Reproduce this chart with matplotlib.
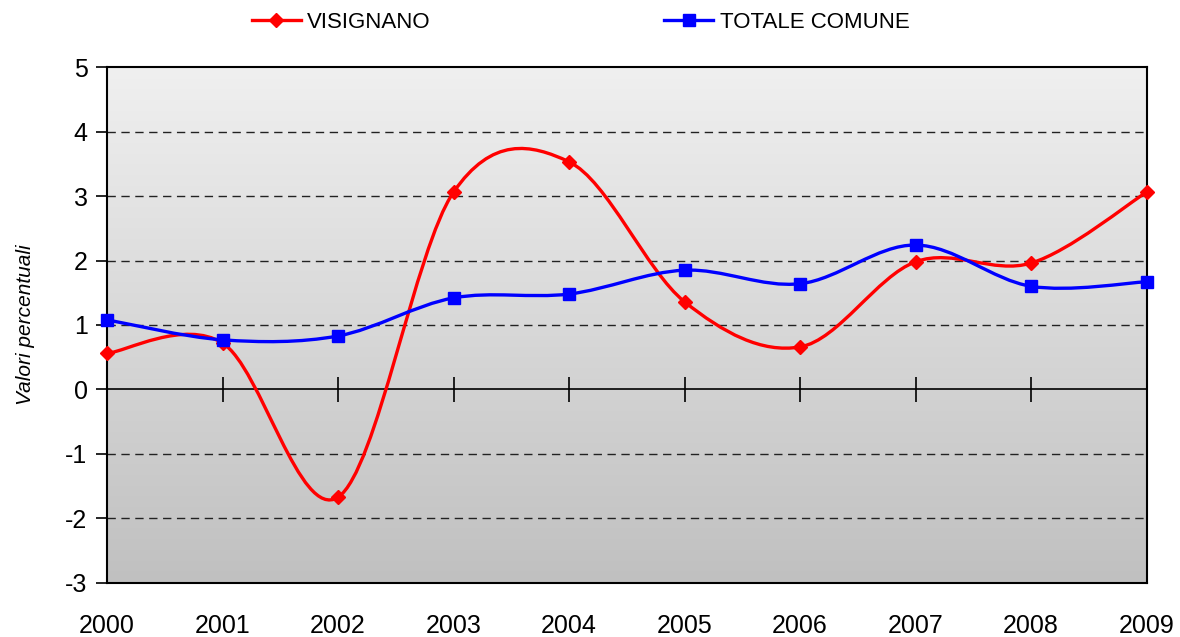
import matplotlib.pyplot as plt
from matplotlib.path import Path
from matplotlib.patches import PathPatch
from matplotlib.lines import Line2D
import numpy as np

plt.rcParams['font.family'] = ['Liberation Sans', 'DejaVu Sans']
plt.rcParams['axes.unicode_minus'] = False

years = [2000, 2001, 2002, 2003, 2004, 2005, 2006, 2007, 2008, 2009]
visignano = [0.56, 0.72, -1.67, 3.06, 3.53, 1.36, 0.66, 1.98, 1.96, 3.06]
totale = [1.08, 0.77, 0.83, 1.42, 1.48, 1.85, 1.64, 2.24, 1.60, 1.67]
yticks = [-3, -2, -1, 0, 1, 2, 3, 4, 5]


def smooth_path(xs, ys):
    # Excel-like smoothed line: cubic bezier with catmull-rom control points
    pts = np.column_stack([xs, ys]).astype(float)
    ext = np.vstack([pts[0], pts, pts[-1]])
    verts = [pts[0]]
    codes = [Path.MOVETO]
    for i in range(len(pts) - 1):
        p0, p1, p2, p3 = ext[i], ext[i + 1], ext[i + 2], ext[i + 3]
        verts += [p1 + (p2 - p0) / 6, p2 - (p3 - p1) / 6, p2]
        codes += [Path.CURVE4] * 3
    return Path(verts, codes)


fig = plt.figure(figsize=(11.8, 6.37), dpi=100)
ax = fig.add_axes([0.0907, 0.0848, 0.881, 0.810])

# gradient background
grad = np.linspace(0, 1, 256).reshape(-1, 1)
ax.imshow(grad, extent=[years[0], years[-1], -3, 5], aspect='auto',
          cmap=plt.matplotlib.colors.LinearSegmentedColormap.from_list(
              'g', ['#f0f0f0', '#c0c0c0']), origin='upper', zorder=0)

ax.set_xlim(years[0], years[-1])
ax.set_ylim(-3, 5)

for y in yticks:
    if y not in (-3, 0, 5):
        ax.axhline(y, color='#222222', lw=1, ls=(0, (6, 4)), zorder=1)
ax.axhline(0, color='black', lw=1.2, zorder=2)
ax.plot(years, [0] * len(years), ls='none', marker='|', ms=18, mew=1.2,
        color='black', zorder=2)

for ys, col, mk, ms in [(visignano, '#ff0000', 'D', 7), (totale, '#0000ff', 's', 8)]:
    ax.add_patch(PathPatch(smooth_path(years, ys), fill=False, edgecolor=col,
                           lw=2.4, zorder=3))
    ax.plot(years, ys, ls='none', marker=mk, ms=ms, color=col, zorder=4,
            clip_on=False)

ax.set_yticks(yticks)
ax.set_xticks(years)
ax.tick_params(axis='y', direction='out', length=8, width=1.2, labelsize=18, pad=6)
ax.tick_params(axis='x', length=0, labelsize=18, pad=22)
for s in ax.spines.values():
    s.set_linewidth(1.5)
    s.set_color('black')

ax.set_ylabel('Valori percentuali', fontsize=15, style='italic', labelpad=22)

handles = [
    Line2D([], [], color='#ff0000', lw=2.4, marker='D', ms=7),
    Line2D([], [], color='#0000ff', lw=2.4, marker='s', ms=8),
]
fig.legend(handles, ['VISIGNANO', 'TOTALE COMUNE'], loc='center',
           bbox_to_anchor=(0.492, 0.965), ncol=2, frameon=False, fontsize=16,
           handlelength=2.2, handletextpad=0.3, columnspacing=10.5)

fig.savefig('out.png', dpi=100)
